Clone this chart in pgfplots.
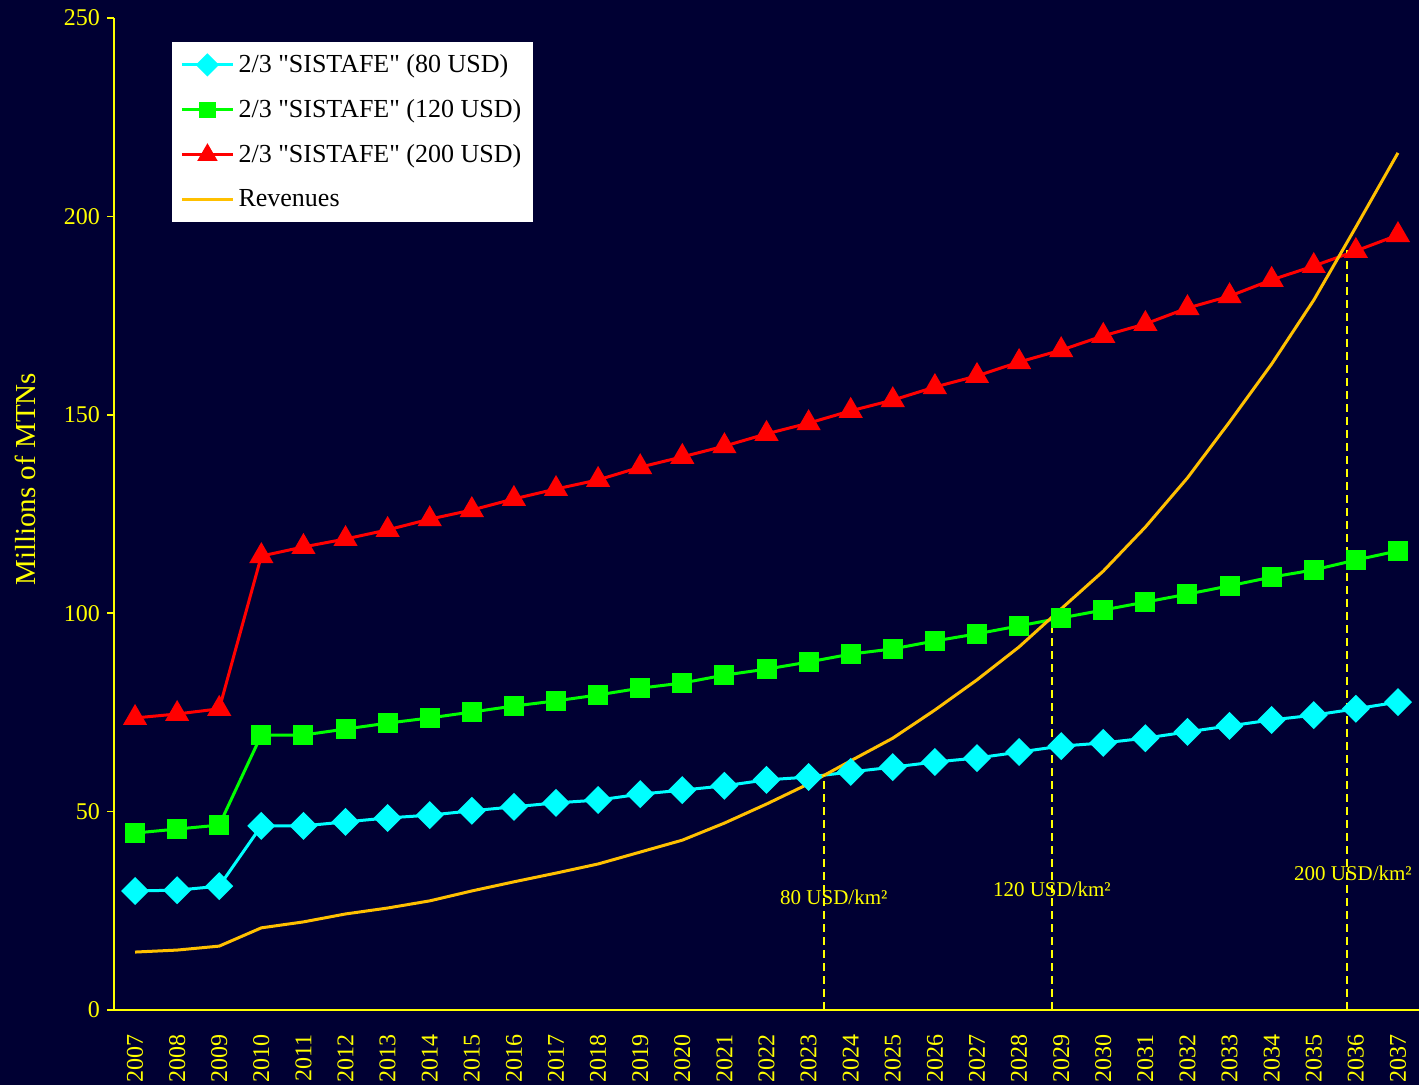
\documentclass[border=0pt]{standalone}
\usepackage{pgfplots}
\pgfplotsset{compat=1.18}
\usepackage{fontspec}
\setmainfont{Liberation Serif}
\newfontfamily\legfont{Liberation Serif}
\definecolor{bg}{HTML}{000033}
\definecolor{ylw}{HTML}{FFFF00}
\definecolor{rev}{HTML}{FFC000}
\definecolor{cy}{HTML}{00FFFF}
\definecolor{gr}{HTML}{00FF00}
\definecolor{rd}{HTML}{FF0000}
\begin{document}
\begin{tikzpicture}
\path[use as bounding box, fill=bg] (-57pt,-37.5pt) rectangle (652.5pt,505pt);
\begin{axis}[
  at={(0,0)}, anchor=south west,
  scale only axis, width=652.5pt, height=496pt,
  xmin=2006.5, xmax=2037.5, ymin=0, ymax=250,
  axis x line=bottom, axis y line=left,
  axis line style={-, ylw, line width=0.75pt},
  tick align=outside,
  /pgf/number format/assume math mode=true,
  xtick={2007,2008,...,2037},
  xtick style={draw=none},
  minor xtick={2006.5,2007.5,...,2037.5},
  minor x tick style={ylw, line width=0.75pt},
  minor tick length=3pt,
  major tick length=3.5pt,
  ytick={0,50,...,250},
  y tick style={ylw, line width=0.75pt},
  xticklabel shift=5pt,
  xticklabel style={rotate=90, anchor=east, text=ylw, font=\fontsize{12}{14}\selectfont, /pgf/number format/1000 sep={}},
  yticklabel style={text=ylw, font=\fontsize{12}{14}\selectfont},
  ylabel={Millions of MTNs},
  every axis y label/.style={at={(axis description cs:0,0.535)}, xshift=-44.5pt, rotate=90, anchor=center, text=ylw, font=\fontsize{14.5}{16}\selectfont},
  legend style={at={(rel axis cs:0.0444,0.9758)}, anchor=north west, fill=white, draw=none, text=black, font=\legfont\fontsize{13}{15}\selectfont, row sep=8pt, inner sep=4pt},
  legend cell align=left,
  legend image code/.code={\draw[mark repeat=2,mark phase=2,#1, every mark/.append style={scale=0.8}] plot coordinates {(0cm,0cm) (0.45cm,0cm) (0.9cm,0cm)};},
]
\addplot[cy, line width=1.5pt, mark=square*, mark size=4.2pt, mark options={rotate=45, fill=cy, solid}] coordinates {
(2007,30.0) (2008,30.2) (2009,31.2) (2010,46.4) (2011,46.4) (2012,47.4) (2013,48.4) (2014,49.1) (2015,50.2) (2016,51.2)
(2017,52.2) (2018,52.9) (2019,54.4) (2020,55.4) (2021,56.5) (2022,58.0) (2023,58.7) (2024,60.0) (2025,61.2) (2026,62.5)
(2027,63.5) (2028,65.0) (2029,66.5) (2030,67.3) (2031,68.5) (2032,70.1) (2033,71.6) (2034,73.1) (2035,74.3) (2036,75.9) (2037,77.6)};
\addlegendentry{2/3 "SISTAFE" (80 USD)}
\addplot[gr, line width=1.5pt, mark=square*, mark size=4.25pt, mark options={fill=gr, solid}] coordinates {
(2007,44.6) (2008,45.6) (2009,46.6) (2010,69.3) (2011,69.3) (2012,70.8) (2013,72.3) (2014,73.6) (2015,75.1) (2016,76.6)
(2017,77.9) (2018,79.4) (2019,81.1) (2020,82.4) (2021,84.4) (2022,85.9) (2023,87.7) (2024,89.7) (2025,91.0) (2026,93.0)
(2027,94.8) (2028,96.8) (2029,98.8) (2030,100.8) (2031,102.8) (2032,104.8) (2033,106.9) (2034,109.1) (2035,110.9) (2036,113.4) (2037,115.7)};
\addlegendentry{2/3 "SISTAFE" (120 USD)}
\addplot[rd, line width=1.5pt, mark=triangle*, mark size=5.5pt, mark options={fill=rd, solid}] coordinates {
(2007,73.6) (2008,74.6) (2009,75.9) (2010,114.4) (2011,116.7) (2012,118.7) (2013,121.0) (2014,123.7) (2015,126.0) (2016,128.8)
(2017,131.3) (2018,133.6) (2019,136.8) (2020,139.4) (2021,142.1) (2022,145.2) (2023,147.9) (2024,151.0) (2025,153.7) (2026,157.0)
(2027,159.8) (2028,163.3) (2029,166.3) (2030,169.9) (2031,172.9) (2032,176.9) (2033,179.9) (2034,184.0) (2035,187.5) (2036,191.3) (2037,195.3)};
\addlegendentry{2/3 "SISTAFE" (200 USD)}
\addplot[rev, line width=1.5pt, no markers] coordinates {
(2007,14.6) (2008,15.1) (2009,16.1) (2010,20.7) (2011,22.2) (2012,24.2) (2013,25.7) (2014,27.5) (2015,30.0) (2016,32.3)
(2017,34.5) (2018,36.8) (2019,39.8) (2020,42.8) (2021,47.1) (2022,51.9) (2023,57.0) (2024,62.8) (2025,68.5) (2026,75.6)
(2027,83.2) (2028,91.5) (2029,101.1) (2030,110.6) (2031,121.7) (2032,134.1) (2033,148.2) (2034,162.8) (2035,178.9) (2036,197.3) (2037,216.0)};
\addlegendentry{Revenues}
\addplot[ylw, line width=1pt, dash pattern=on 4pt off 2.5pt, forget plot] coordinates {(2023.37,0) (2023.37,59.2)};
\addplot[ylw, line width=1pt, dash pattern=on 4pt off 2.5pt, forget plot] coordinates {(2028.78,0) (2028.78,98.8)};
\addplot[ylw, line width=1pt, dash pattern=on 4pt off 2.5pt, forget plot] coordinates {(2035.79,0) (2035.79,191.5)};
\node[text=ylw, font=\fontsize{10.5}{12}\selectfont] at (axis cs:2023.6,28.5) {80 USD/km²};
\node[text=ylw, font=\fontsize{10.5}{12}\selectfont] at (axis cs:2028.78,30.5) {120 USD/km²};
\node[text=ylw, font=\fontsize{10.5}{12}\selectfont] at (axis cs:2035.93,34.5) {200 USD/km²};
\end{axis}
\end{tikzpicture}
\end{document}
